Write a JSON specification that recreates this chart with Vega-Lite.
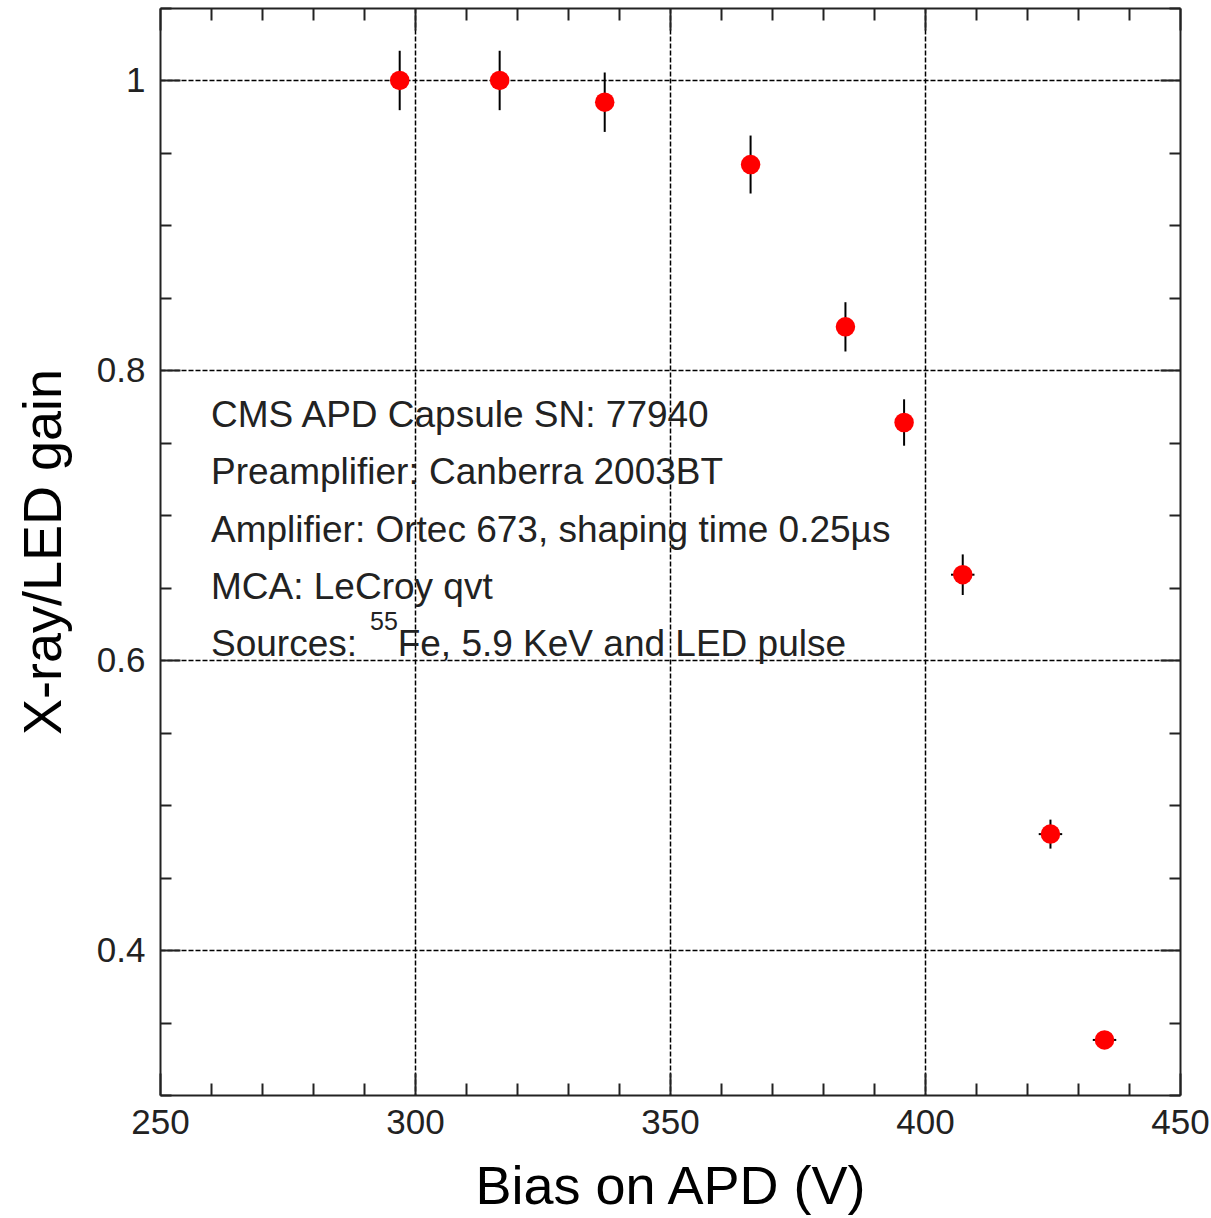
{
  "$schema": "https://vega.github.io/schema/vega-lite/v6.json",
  "width": 1020,
  "height": 1087,
  "autosize": {"type": "none"},
  "padding": {"left": 160, "top": 8, "right": 31, "bottom": 123},
  "background": "white",
  "config": {"view": {"stroke": null}, "font": "Liberation Sans"},
  "datasets": {
    "pts": [
      {"v": 297.0, "g": 1.000, "e": 0.0205},
      {"v": 316.6, "g": 1.000, "e": 0.0205},
      {"v": 337.2, "g": 0.985, "e": 0.0205},
      {"v": 365.8, "g": 0.942, "e": 0.020},
      {"v": 384.4, "g": 0.830, "e": 0.017},
      {"v": 395.9, "g": 0.764, "e": 0.016},
      {"v": 407.4, "g": 0.659, "e": 0.014},
      {"v": 424.6, "g": 0.480, "e": 0.010},
      {"v": 435.2, "g": 0.338, "e": 0.004}
    ],
    "xerr": [
      {"v": 407.4, "g": 0.659, "ex": 2.3},
      {"v": 424.6, "g": 0.480, "ex": 2.3},
      {"v": 435.2, "g": 0.338, "ex": 2.3}
    ],
    "notes": [
      {"v": 260, "g": 0.7607, "t": "CMS APD Capsule SN: 77940"},
      {"v": 260, "g": 0.7214, "t": "Preamplifier: Canberra 2003BT"},
      {"v": 260, "g": 0.6814, "t": "Amplifier: Ortec 673, shaping time 0.25µs"},
      {"v": 260, "g": 0.6421, "t": "MCA: LeCroy qvt"},
      {"v": 260, "g": 0.6028, "t": "Sources:"},
      {"v": 296.6, "g": 0.6028, "t": "Fe, 5.9 KeV and LED pulse"}
    ],
    "sup": [
      {"v": 291.2, "g": 0.621, "t": "55"}
    ]
  },
  "layer": [
    {
      "data": {"name": "pts"},
      "mark": {"type": "errorbar", "color": "black", "thickness": 2},
      "encoding": {
        "x": {
          "field": "v", "type": "quantitative",
          "scale": {"domain": [250, 450], "nice": false, "zero": false},
          "axis": {
            "orient": "bottom",
            "values": [250,260,270,280,290,300,310,320,330,340,350,360,370,380,390,400,410,420,430,440,450],
            "labelExpr": "datum.value % 50 === 0 ? datum.label : ''",
            "labelFontSize": 35, "labelColor": "#222", "labelPadding": 32,
            "labelFlush": false, "labelOverlap": false, "labelBound": false,
            "tickSize": {"condition": {"test": "datum.value % 50 === 0", "value": -22}, "value": -12},
            "tickWidth": 2, "tickColor": "#222",
            "domainColor": "#222", "domainWidth": 2,
            "grid": true, "gridColor": "black", "gridDash": [5, 2], "gridWidth": 1.5,
            "gridOpacity": {"condition": {"test": "datum.value % 50 === 0 && datum.value > 250 && datum.value < 450", "value": 1}, "value": 0},
            "title": "Bias on APD (V)", "titleFontSize": 54, "titleFontWeight": "normal", "titleColor": "black",
            "titleY": 108, "titleBaseline": "alphabetic"
          }
        },
        "y": {
          "field": "g", "type": "quantitative",
          "scale": {"domain": [0.3, 1.05], "nice": false, "zero": false},
          "axis": {
            "orient": "left",
            "values": [0.3,0.35,0.4,0.45,0.5,0.55,0.6,0.65,0.7,0.75,0.8,0.85,0.9,0.95,1,1.05],
            "labelExpr": "abs(datum.value*5 - round(datum.value*5)) < 0.001 ? (datum.value >= 0.999 ? '1' : format(datum.value, '.1f')) : ''",
            "labelFontSize": 35, "labelColor": "#222", "labelPadding": 35,
            "labelFlush": false, "labelOverlap": false, "labelBound": false,
            "tickSize": {"condition": {"test": "abs(datum.value*5 - round(datum.value*5)) < 0.001", "value": -20}, "value": -11},
            "tickWidth": 2, "tickColor": "#222",
            "domainColor": "#222", "domainWidth": 2,
            "grid": true, "gridColor": "black", "gridDash": [5, 2], "gridWidth": 1.5,
            "gridOpacity": {"condition": {"test": "abs(datum.value*5 - round(datum.value*5)) < 0.001", "value": 1}, "value": 0},
            "title": "X-ray/LED gain", "titleFontSize": 54, "titleFontWeight": "normal", "titleColor": "black",
            "titleX": -100, "titleBaseline": "alphabetic"
          }
        },
        "yError": {"field": "e"}
      }
    },
    {
      "data": {"name": "xerr"},
      "mark": {"type": "errorbar", "color": "black", "thickness": 2},
      "encoding": {
        "y": {"field": "g", "type": "quantitative", "axis": null},
        "x": {"field": "v", "type": "quantitative", "axis": null},
        "xError": {"field": "ex"}
      }
    },
    {
      "data": {"name": "pts"},
      "mark": {"type": "circle", "color": "#ff0000", "opacity": 1, "size": 380},
      "encoding": {
        "x": {"field": "v", "type": "quantitative", "axis": null},
        "y": {"field": "g", "type": "quantitative", "axis": null}
      }
    },
    {
      "data": {"name": "notes"},
      "mark": {"type": "text", "align": "left", "baseline": "alphabetic", "fontSize": 37, "color": "#222", "font": "Liberation Sans"},
      "encoding": {
        "x": {
          "field": "v", "type": "quantitative",
          "axis": {
            "orient": "top",
            "values": [250,260,270,280,290,300,310,320,330,340,350,360,370,380,390,400,410,420,430,440,450],
            "labels": false, "grid": false, "title": null,
            "tickSize": {"condition": {"test": "datum.value % 50 === 0", "value": -22}, "value": -12},
            "tickWidth": 2, "tickColor": "#222",
            "domainColor": "#222", "domainWidth": 2
          }
        },
        "y": {
          "field": "g", "type": "quantitative",
          "axis": {
            "orient": "right",
            "values": [0.3,0.35,0.4,0.45,0.5,0.55,0.6,0.65,0.7,0.75,0.8,0.85,0.9,0.95,1,1.05],
            "labels": false, "grid": false, "title": null,
            "tickSize": {"condition": {"test": "abs(datum.value*5 - round(datum.value*5)) < 0.001", "value": -20}, "value": -11},
            "tickWidth": 2, "tickColor": "#222",
            "domainColor": "#222", "domainWidth": 2
          }
        },
        "text": {"field": "t"}
      }
    },
    {
      "data": {"name": "sup"},
      "mark": {"type": "text", "align": "left", "baseline": "alphabetic", "fontSize": 25, "color": "#222", "font": "Liberation Sans"},
      "encoding": {
        "x": {"field": "v", "type": "quantitative", "axis": null},
        "y": {"field": "g", "type": "quantitative", "axis": null},
        "text": {"field": "t"}
      }
    }
  ],
  "resolve": {"axis": {"x": "independent", "y": "independent"}}
}
